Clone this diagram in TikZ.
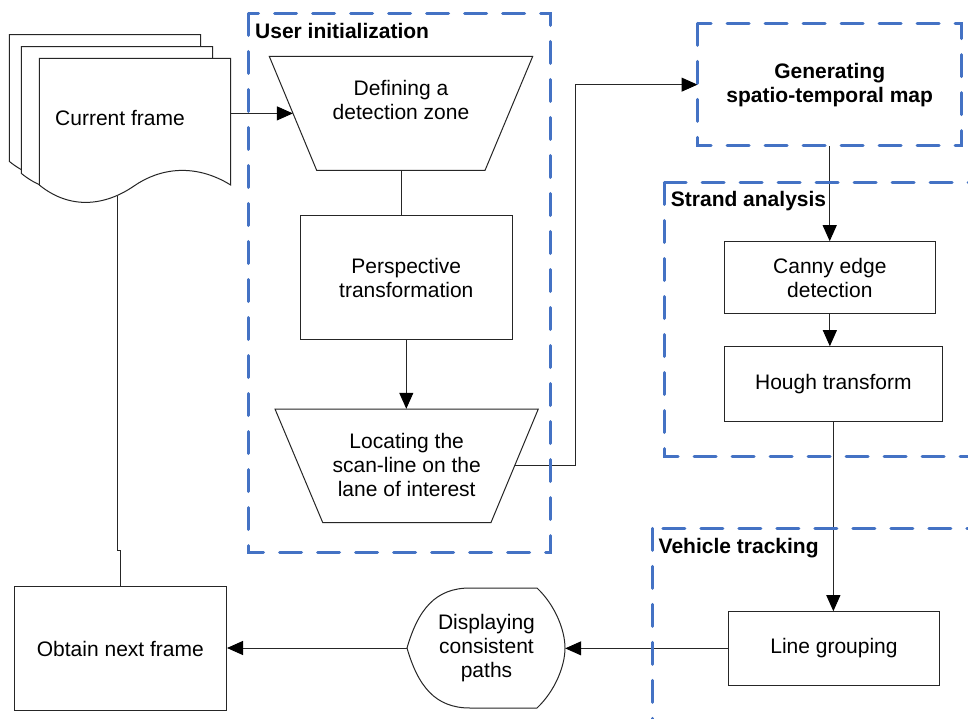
\documentclass[tikz,border=0pt]{standalone}
\usepackage{fontspec}
\setmainfont{Liberation Sans}
\usetikzlibrary{arrows.meta}
\definecolor{dashblue}{RGB}{68,114,196}
\begin{document}
\begin{tikzpicture}[x=1pt,y=-1pt,
  font=\fontsize{21}{24}\selectfont,
  box/.style={draw=black!85, line width=1pt, fill=white, align=center, inner sep=0pt},
  ghost/.style={draw=none, align=center, inner sep=0pt},
  shapeline/.style={draw=black!85, line width=1pt, fill=white},
  line/.style={draw=black!85, line width=1pt},
  arr/.style={line, -{Triangle[length=16pt,width=14pt,color=black]}},
  group/.style={draw=dashblue, line width=3pt, dash pattern=on 22pt off 16pt, line cap=round},
  grouplabel/.style={font=\fontsize{21}{24}\selectfont\bfseries, anchor=base west, inner sep=0pt}
]
\clip (0,0) rectangle (968,719);
\fill[white] (0,0) rectangle (968,719);

% ---- multi-document "Current frame"
\foreach \dx/\dy in {-30/-23.6, -18/-11.6, 0/0}{
  \begin{scope}[shift={(\dx,\dy)}]
    \path[shapeline] (39.3,185) -- (39.3,58.3) -- (230.7,58.3) -- (230.7,185)
      .. controls (195,163) and (160,168) .. (134,186)
      .. controls (105,206) and (70,210) .. (39.3,185) -- cycle;
  \end{scope}
}
\node[ghost, minimum width=191.4pt, minimum height=126.7pt] (cur) at (135,121.65) {};
\node[ghost] (curtxt) at (120,118) {Current frame};
\coordinate (docfoot) at (117,196.5);

% ---- user initialization
\path[shapeline] (269.3,56.4) -- (532.7,56.4) -- (485,170.4) -- (316.7,170.4) -- cycle;
\node[ghost, minimum width=215.85pt, minimum height=114pt] (def) at (401,113.4) {};
\node[ghost] (deftxt) at (401,100.3) {Defining a\\detection zone};

\node[box, minimum width=212pt, minimum height=123.3pt] (persp) at (406.3,277.65) {Perspective\\transformation};

\path[shapeline] (275,409) -- (538.3,409) -- (491,522.5) -- (322.7,522.5) -- cycle;
\node[ghost, minimum width=215.8pt, minimum height=113.5pt] (loc) at (406.7,465.75) {};
\node[ghost] (loctxt) at (406.7,465) {Locating the\\scan-line on the\\lane of interest};

% ---- generating map
\node[ghost, font=\fontsize{21}{24}\selectfont\bfseries, minimum width=264pt, minimum height=122.7pt] (gen) at (829.7,84.65) {Generating\\spatio-temporal map};

% ---- strand analysis
\node[box, minimum width=211.7pt, minimum height=71.6pt] (canny) at (829.85,277.5) {Canny edge\\detection};
\node[box, minimum width=218.7pt, minimum height=74.3pt] (hough) at (833.35,383.85) {Hough transform};

% ---- vehicle tracking
\node[box, minimum width=211.1pt, minimum height=73.3pt] (lg) at (833.95,648.35) {Line grouping};

% ---- display
\path[shapeline] (537,588) .. controls (555,605) and (565,630) .. (565,648)
  .. controls (565,666) and (555,691) .. (537,708) -- (470,708)
  .. controls (435,708) and (418,686) .. (407,648)
  .. controls (418,610) and (435,588) .. (470,588) -- cycle;
\node[ghost, minimum width=158pt, minimum height=120pt] (disp) at (486,648) {};
\node[ghost] (disptxt) at (486.5,648) {Displaying\\consistent\\paths};

% ---- obtain next frame
\node[box, minimum width=212.3pt, minimum height=124pt] (obt) at (120.35,648.7) {Obtain next frame};

% ---- connectors
\draw[arr] (cur.east |- def.west) -- (def.west);
\draw[line] (def.south) -- (def.south |- persp.north);
\draw[arr] (persp.south) -- (persp.south |- loc.north);
\draw[arr] (loc.east) -- ++(60.3,0) |- (gen.west);
\draw[arr] (gen.south) -- (gen.south |- canny.north);
\draw[arr] (canny.south) -- (canny.south |- hough.north);
\draw[arr] (hough.south) -- (hough.south |- lg.north);
\draw[arr] (lg.west) -- (lg.west -| disp.east);
\draw[arr] (disp.west) -- (disp.west -| obt.east);
\draw[line] (docfoot) -- ++(0,354) -| (obt.north);

% ---- dashed groups
\draw[group] (248.5,13.5) rectangle (550.5,552.5);
\node[grouplabel] (uilabel) at (255,38.5) {User initialization};
\draw[group] (697.7,23.3) rectangle (961.7,146);
\draw[group] (664.3,182.5) rectangle (990,456.7);
\node[grouplabel] (salabel) at (670.7,206.7) {Strand analysis};
\draw[group] (652.5,528.3) rectangle (990,720);
\node[grouplabel] (vtlabel) at (658.5,553.3) {Vehicle tracking};
\end{tikzpicture}
\end{document}
